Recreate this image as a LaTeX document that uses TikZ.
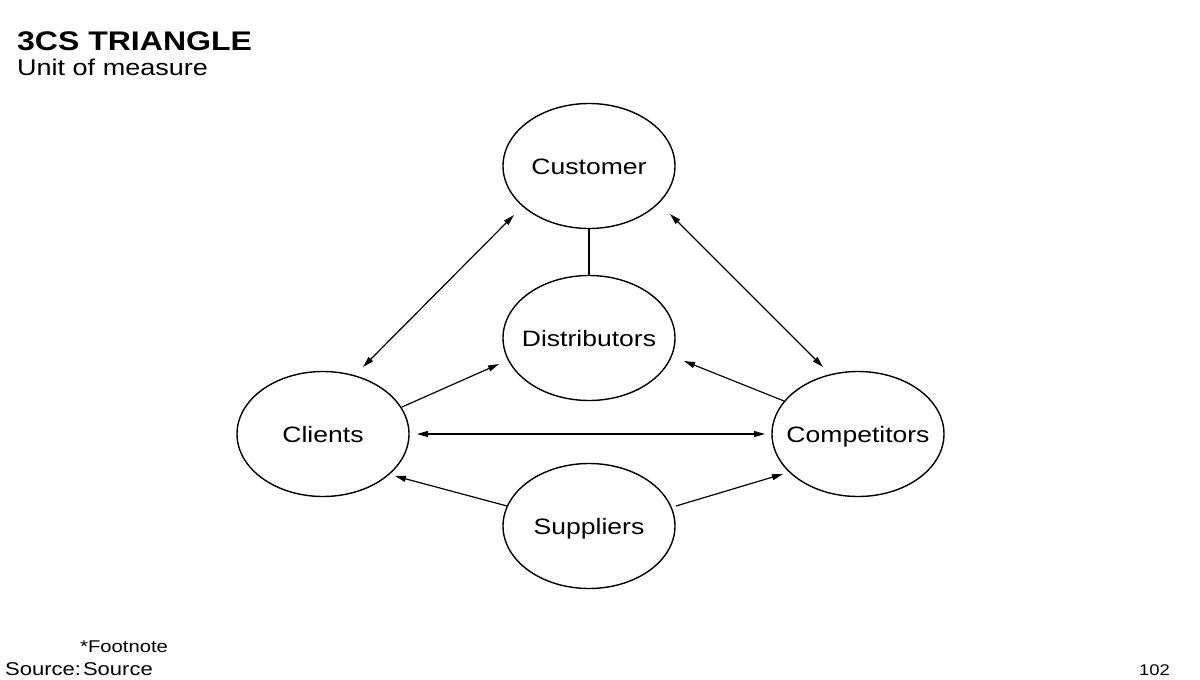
\documentclass[tikz,border=0pt]{standalone}
\usepackage{fontspec}
\setmainfont[FakeStretch=1.19]{Liberation Sans}
\usetikzlibrary{arrows.meta,calc,shapes.geometric}
\newcommand{\ctext}[1]{\makebox[0pt][c]{#1}}
\begin{document}
\begin{tikzpicture}[x=1pt,y=1pt,
  circ/.style={draw, line width=1.4pt, ellipse, minimum width=172pt, minimum height=125pt, inner sep=0pt, text height=16pt, text depth=0pt, font=\fontsize{22.3}{26}\selectfont},
  conn/.style={line width=1.2pt},
  twohead/.style={{Triangle[length=11pt,width=6pt]}-{Triangle[length=11pt,width=6pt]}},
  onehead/.style={-{Triangle[length=11pt,width=6pt]}},
  txt/.style={inner sep=0pt, anchor=base west}]
\useasboundingbox (0,0) rectangle (1200,-680);
% titles
\node[txt, font=\bfseries\fontsize{26.9}{30}\selectfont] (title) at (17,-50) {3CS TRIANGLE};
\node[txt, font=\fontsize{22.7}{26}\selectfont] (sub) at (17,-75) {Unit of measure};
\node[txt, font=\fontsize{17}{20}\selectfont] (foot) at (80,-652) {*Footnote};
\node[txt, font=\fontsize{18.5}{21}\selectfont] (src) at (5,-675) {Source:\hspace{2pt}Source};
\node[inner sep=0pt, anchor=base east, font=\fontsize{15.5}{18}\selectfont] (page) at (1170,-675) {102};
% ellipses
\node[circ] (cu) at (589,-166) {\ctext{Customer}};
\node[circ] (di) at (589,-338) {\ctext{Distributors}};
\node[circ] (cl) at (323,-434) {\ctext{Clients}};
\node[circ] (co) at (858,-434) {\ctext{Competitors}};
\node[circ] (su) at (589,-526) {\ctext{Suppliers}};
% connectors
\draw[conn] (cu.south) -- (di.north);
\draw[conn,twohead] ($(cl)+(40,67)$) -- ($(cu)+(-75,-49)$);
\draw[conn,twohead] ($(cu)+(81,-48)$) -- ($(co)+(-35,67)$);
\draw[conn,twohead] ($(cl)+(94,0)$) -- ($(co)+(-93,0)$);
\draw[conn,onehead] ($(cl)+(79,27)$) -- ($(di)+(-90,-26)$);
\draw[conn,onehead] ($(co)+(-74,33)$) -- ($(di)+(95,-23)$);
\draw[conn,onehead] ($(su)+(-82,20)$) -- ($(cl)+(72,-42)$);
\draw[conn,onehead] ($(su)+(87,20)$) -- ($(co)+(-75,-40)$);
\end{tikzpicture}
\end{document}
